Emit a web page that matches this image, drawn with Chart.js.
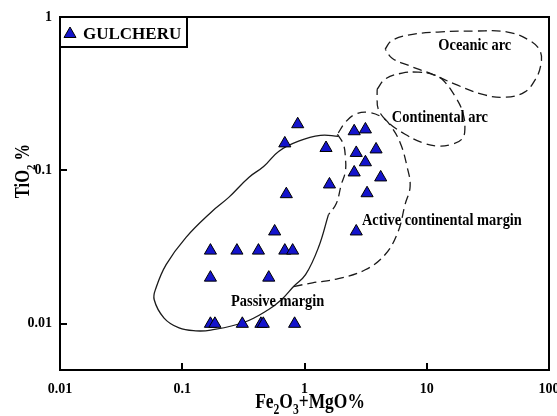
<!DOCTYPE html>
<html>
<head>
<meta charset="utf-8">
<script src="https://cdn.jsdelivr.net/npm/chart.js@4.4.0/dist/chart.umd.min.js"></script>
<style>
  html, body { margin: 0; padding: 0; background: #fff; }
  #wrap { width: 557px; height: 416px; }
</style>
</head>
<body>
<div id="wrap"><canvas id="chart" width="557" height="416"></canvas></div>
<script>
// GULCHERU samples: Fe2O3+MgO % vs TiO2 %
const feMgO = [0.88, 0.69, 1.5, 2.55, 3.15, 2.65, 3.85, 3.15, 2.55, 4.2, 1.6, 0.71, 3.25, 0.57, 2.65,
               0.17, 0.28, 0.42, 0.69, 0.8, 0.17, 0.51, 0.17, 0.185, 0.31, 0.44, 0.46, 0.83];
const tiO2  = [0.2, 0.15, 0.14, 0.18, 0.185, 0.13, 0.137, 0.113, 0.097, 0.09, 0.081, 0.07, 0.071, 0.04, 0.04,
               0.03, 0.03, 0.03, 0.03, 0.03, 0.02, 0.02, 0.01, 0.01, 0.01, 0.01, 0.01, 0.01];

const xTickValues = [0.01, 0.1, 1, 10, 100];
const xTickLabels = ['0.01', '0.1', '1', '10', '100'];
const yTickValues = [0.01, 0.1, 1];
const yTickLabels = ['0.01', '0.1', '1'];

// field boundaries, [Fe2O3+MgO, TiO2]
const passiveMargin = [
  [1.89, 0.167], [1.35, 0.169], [0.894, 0.155], [0.614, 0.133], [0.463, 0.106], [0.35, 0.09],
  [0.24, 0.0667], [0.175, 0.054], [0.107, 0.0365], [0.0738, 0.0243], [0.0611, 0.0172], [0.0589, 0.0144],
  [0.071, 0.0109], [0.0942, 0.0094], [0.129, 0.009], [0.171, 0.0091], [0.318, 0.0102], [0.509, 0.0124],
  [0.65, 0.0144], [0.814, 0.0175], [1.02, 0.0209], [1.3, 0.0314], [1.57, 0.0515]
];
const activeMarginOuter = [
  [0.814, 0.0175], [1.162, 0.0185], [1.89, 0.0197], [3.14, 0.0225], [4.57, 0.0283], [5.83, 0.0399],
  [6.65, 0.06], [7.31, 0.0786], [6.9, 0.106], [6.05, 0.152], [5.02, 0.197], [4.32, 0.222],
  [3.32, 0.239], [2.6, 0.232], [2.16, 0.206], [1.86, 0.172]
];
const activeMarginInner = [
  [1.86, 0.172], [2.08, 0.148], [2.16, 0.122], [2.16, 0.0985], [2.0, 0.081], [1.82, 0.0608], [1.57, 0.0515]
];
const continentalArc = [
  [3.93, 0.338], [4.57, 0.394], [6.29, 0.431], [8.49, 0.437], [11.04, 0.424], [13.3, 0.394], [17.0, 0.305],
  [19.7, 0.239], [20.5, 0.185], [19.4, 0.16], [16.1, 0.148], [12.4, 0.144], [9.15, 0.152], [6.65, 0.172],
  [4.83, 0.206], [4.01, 0.251], [3.93, 0.305], [3.93, 0.338]
];
const oceanicArc = [
  [4.57, 0.618], [5.12, 0.697], [7.03, 0.762], [12.35, 0.798], [24.7, 0.81], [45.9, 0.798], [70.6, 0.697],
  [85.3, 0.59], [85.3, 0.478], [77.6, 0.394], [63.1, 0.324], [43.4, 0.3], [28.2, 0.314], [17.0, 0.365],
  [11.04, 0.424], [7.03, 0.485], [5.21, 0.539], [4.57, 0.618]
];

const fieldLabels = [
  { text: 'Oceanic arc', x: 24.7, y: 0.645 },
  { text: 'Continental arc', x: 12.8, y: 0.219 },
  { text: 'Active continental margin', x: 13.3, y: 0.0471 },
  { text: 'Passive margin', x: 0.603, y: 0.0139 }
];

const SERIF = '"Liberation Serif", "Times New Roman", serif';
const MARKER_BLUE = '#1414cc';

const toPoints = (pairs) => pairs.map(([x, y]) => ({ x, y }));

const boundary = (pairs, dashed) => ({
  data: toPoints(pairs),
  showLine: true,
  pointRadius: 0,
  pointHoverRadius: 0,
  borderColor: '#1a1a1a',
  borderWidth: 1.3,
  borderDash: dashed ? [9, 5] : [],
  tension: 0.4,
  fill: false
});

// text with optional subscripts, squeezed along its direction like the original
const drawRichText = (ctx, parts, x, y, size, squeeze, rotated) => {
  const mainFont = `bold ${size}px ${SERIF}`;
  const subFont = `bold ${Math.round(size * 0.65)}px ${SERIF}`;
  ctx.save();
  ctx.translate(x, y);
  if (rotated) ctx.rotate(-Math.PI / 2);
  ctx.scale(squeeze, 1);
  ctx.fillStyle = '#000';
  ctx.textBaseline = 'alphabetic';
  ctx.textAlign = 'left';
  let total = 0;
  parts.forEach(p => {
    ctx.font = p.sub ? subFont : mainFont;
    total += ctx.measureText(p.t).width;
  });
  let cx = -total / 2;
  parts.forEach(p => {
    ctx.font = p.sub ? subFont : mainFont;
    ctx.fillText(p.t, cx, p.sub ? size * 0.3 : 0);
    cx += ctx.measureText(p.t).width;
  });
  ctx.restore();
};

const framePlugin = {
  id: 'frame',
  afterDatasetsDraw(chart) {
    const ctx = chart.ctx;
    const xs = chart.scales.x, ys = chart.scales.y;
    fieldLabels.forEach(l => {
      ctx.save();
      ctx.translate(xs.getPixelForValue(l.x), ys.getPixelForValue(l.y));
      ctx.scale(0.9, 1);
      ctx.font = `bold 16px ${SERIF}`;
      ctx.fillStyle = '#000';
      ctx.textAlign = 'center';
      ctx.textBaseline = 'middle';
      ctx.fillText(l.text, 0, 0);
      ctx.restore();
    });
  },
  afterDraw(chart) {
    const ctx = chart.ctx;
    const { left, top, right, bottom } = chart.chartArea;
    const xs = chart.scales.x, ys = chart.scales.y;
    ctx.save();
    ctx.strokeStyle = '#000';
    ctx.lineWidth = 2;
    ctx.strokeRect(left, top, right - left, bottom - top);
    ctx.beginPath();
    xTickValues.forEach(v => {
      const px = Math.round(xs.getPixelForValue(v));
      ctx.moveTo(px, bottom);
      ctx.lineTo(px, bottom - 7);
    });
    yTickValues.forEach(v => {
      const py = Math.round(ys.getPixelForValue(v));
      ctx.moveTo(left, py);
      ctx.lineTo(left + 7, py);
    });
    ctx.stroke();

    // legend box
    ctx.strokeRect(left, top, 127, 30);
    const tx = left + 10, ty = top + 16;
    ctx.beginPath();
    ctx.moveTo(tx, ty - 6);
    ctx.lineTo(tx + 6, ty + 4.5);
    ctx.lineTo(tx - 6, ty + 4.5);
    ctx.closePath();
    ctx.fillStyle = MARKER_BLUE;
    ctx.fill();
    ctx.lineWidth = 1;
    ctx.stroke();
    ctx.fillStyle = '#000';
    ctx.font = `bold 17px ${SERIF}`;
    ctx.textAlign = 'left';
    ctx.textBaseline = 'alphabetic';
    ctx.fillText('GULCHERU', left + 23, top + 22);
    ctx.restore();

    // axis titles
    drawRichText(ctx, [{ t: 'Fe' }, { t: '2', sub: true }, { t: 'O' }, { t: '3', sub: true }, { t: '+MgO%' }],
      310, 408, 21, 0.83, false);
    drawRichText(ctx, [{ t: 'TiO' }, { t: '2', sub: true }, { t: ' %' }],
      29, 171, 20, 0.83, true);
  }
};

const tickFont = { family: SERIF, size: 14, weight: 'bold' };

new Chart(document.getElementById('chart').getContext('2d'), {
  type: 'scatter',
  data: {
    datasets: [
      {
        label: 'GULCHERU',
        data: feMgO.map((x, i) => ({ x, y: tiO2[i] })),
        pointStyle: 'triangle',
        pointRadius: 7,
        pointHoverRadius: 7,
        backgroundColor: MARKER_BLUE,
        borderColor: '#000',
        borderWidth: 1,
        showLine: false
      },
      boundary(passiveMargin, false),
      boundary(activeMarginOuter, true),
      boundary(activeMarginInner, true),
      boundary(continentalArc, true),
      boundary(oceanicArc, true)
    ]
  },
  options: {
    responsive: false,
    animation: false,
    devicePixelRatio: 1,
    layout: { padding: { top: 17, right: 6, left: 0, bottom: 0 } },
    plugins: {
      legend: { display: false },
      tooltip: { enabled: false }
    },
    scales: {
      x: {
        type: 'logarithmic',
        min: 0.01,
        max: 100,
        grid: { display: false, drawTicks: false },
        border: { display: false },
        afterBuildTicks: (scale) => { scale.ticks = xTickValues.map(value => ({ value })); },
        afterFit: (scale) => {
          scale.height = 46;
          scale.paddingLeft = 0;
          scale.paddingRight = 0;
        },
        ticks: {
          font: tickFont,
          color: '#000',
          padding: 11,
          maxRotation: 0,
          autoSkip: false,
          callback: (value) => xTickLabels[xTickValues.indexOf(value)]
        }
      },
      y: {
        type: 'logarithmic',
        min: 0.005,
        max: 1,
        grid: { display: false, drawTicks: false },
        border: { display: false },
        afterBuildTicks: (scale) => { scale.ticks = yTickValues.map(value => ({ value })); },
        afterFit: (scale) => {
          scale.width = 60;
          scale.paddingTop = 0;
          scale.paddingBottom = 0;
        },
        ticks: {
          font: tickFont,
          color: '#000',
          padding: 8,
          autoSkip: false,
          callback: (value) => yTickLabels[yTickValues.indexOf(value)]
        }
      }
    }
  },
  plugins: [framePlugin]
});
</script>
</body>
</html>
